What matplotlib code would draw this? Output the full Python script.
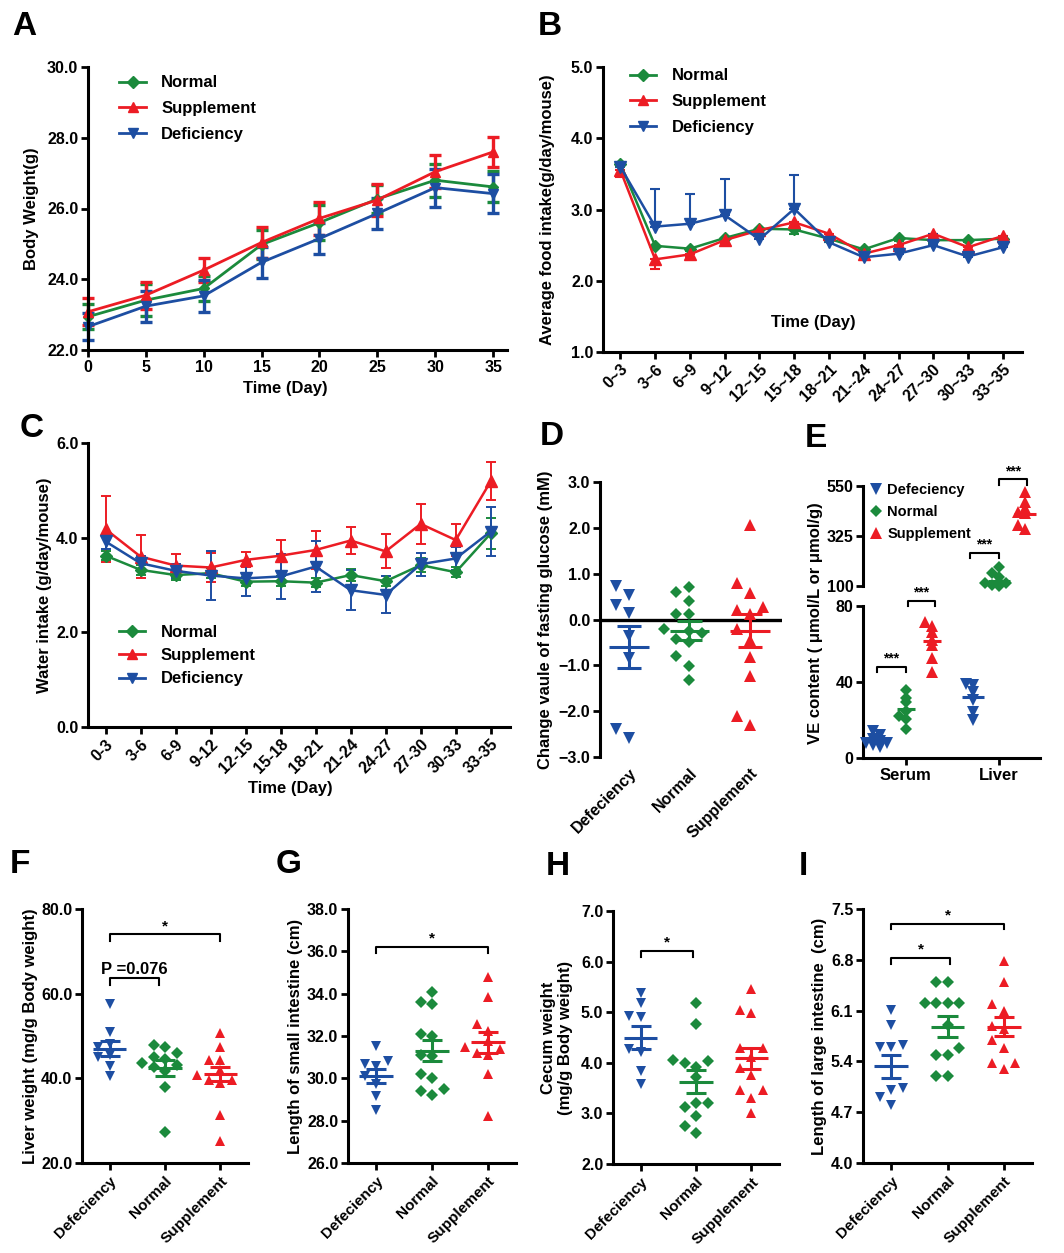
import numpy as np
import matplotlib
matplotlib.use('Agg')
import matplotlib.pyplot as plt
from matplotlib.lines import Line2D

plt.rcParams['font.family'] = ['Liberation Sans', 'DejaVu Sans']
plt.rcParams['font.weight'] = 'bold'
plt.rcParams['axes.labelweight'] = 'bold'

W, H = 1064, 1253
GREEN = '#1B8A3C'
RED = '#EC1C24'
BLUE = '#1D4EA2'
TICK_FS = 11.5
LAB_FS = 12

# ---- A: body weight
days = [0, 5, 10, 15, 20, 25, 30, 35]
bw_normal = [22.94, 23.41, 23.74, 24.98, 25.60, 26.27, 26.80, 26.61]
bw_normal_err = [0.36, 0.45, 0.35, 0.42, 0.50, 0.39, 0.47, 0.44]
bw_supp = [23.08, 23.55, 24.26, 25.04, 25.72, 26.24, 27.04, 27.60]
bw_supp_err = [0.38, 0.38, 0.33, 0.44, 0.47, 0.44, 0.47, 0.42]
bw_def = [22.66, 23.24, 23.53, 24.48, 25.15, 25.86, 26.59, 26.42]
bw_def_err = [0.38, 0.44, 0.45, 0.44, 0.44, 0.45, 0.54, 0.56]

# ---- B: food intake
food_periods = ['0~3', '3~6', '6~9', '9~12', '12~15', '15~18', '18~21',
                '21--24', '24~27', '27~30', '30~33', '33~35']
food_normal = [3.64, 2.49, 2.45, 2.60, 2.73, 2.72, 2.59, 2.44, 2.60, 2.57, 2.57, 2.59]
food_normal_err = [0.04, 0.03, 0.03, 0.03, 0.03, 0.06, 0.04, 0.03, 0.04, 0.04, 0.03, 0.03]
food_supp = [3.55, 2.30, 2.37, 2.57, 2.71, 2.82, 2.66, 2.38, 2.50, 2.66, 2.47, 2.63]
food_supp_err = [0.10, 0.14, 0.04, 0.04, 0.04, 0.05, 0.04, 0.03, 0.04, 0.04, 0.04, 0.04]
food_def = [3.60, 2.76, 2.80, 2.92, 2.58, 3.01, 2.54, 2.33, 2.38, 2.50, 2.34, 2.47]
food_def_err = [0.05, 0.53, 0.42, 0.51, 0.05, 0.48, 0.05, 0.04, 0.04, 0.16, 0.04, 0.14]

# ---- C: water intake
water_periods = ['0-3', '3-6', '6-9', '9-12', '12-15', '15-18', '18-21',
                 '21-24', '24-27', '27-30', '30-33', '33-35']
water_normal = [3.62, 3.32, 3.21, 3.25, 3.07, 3.08, 3.05, 3.21, 3.08, 3.42, 3.27, 4.09]
water_normal_err = [0.10, 0.10, 0.10, 0.10, 0.10, 0.10, 0.10, 0.12, 0.10, 0.15, 0.10, 0.32]
water_supp = [4.18, 3.60, 3.41, 3.37, 3.53, 3.62, 3.74, 3.94, 3.71, 4.29, 3.95, 5.19]
water_supp_err = [0.69, 0.46, 0.24, 0.31, 0.16, 0.33, 0.41, 0.28, 0.36, 0.43, 0.34, 0.40]
water_def = [3.92, 3.46, 3.30, 3.20, 3.14, 3.18, 3.39, 2.89, 2.79, 3.44, 3.56, 4.13]
water_def_err = [0.15, 0.15, 0.15, 0.52, 0.37, 0.48, 0.53, 0.42, 0.39, 0.24, 0.25, 0.52]

groups = ['Defeciency', 'Normal', 'Supplement']

# ---- D: fasting glucose change
gluc_def = [0.32, 0.54, 0.73, 0.14, -0.35, -0.85, -2.58, -2.38]
gluc_normal = [0.71, 0.60, 0.40, 0.13, 0.12, -0.20, -0.25, -0.30, -0.42, -0.50, -0.80, -1.02, -1.31]
gluc_supp = [2.07, 0.80, 0.58, 0.27, 0.20, 0.13, -0.21, -0.45, -0.82, -1.23, -2.11, -2.31]
gluc_mean = [-0.60, -0.24, -0.24]
gluc_sem = [0.46, 0.20, 0.37]

# ---- E: VE content
ve_sites = ['Serum', 'Liver']
ve_serum_def = [14, 12, 10, 9, 8, 8, 7, 6]
ve_serum_normal = [36, 31.8, 29.5, 25, 22, 20.7, 15.5]
ve_serum_supp = [71.4, 69.6, 66.4, 62, 59.4, 52.4, 45.3]
ve_liver_def = [38.7, 38.3, 34.8, 30.4, 24.3, 20.2]
ve_liver_normal = [187, 157, 142, 120, 112, 101, 105, 115]
ve_liver_supp = [524, 480, 452, 435, 427, 375, 357]
ve_serum_mean = [9, 25.8, 61.5]
ve_liver_mean = [32.2, 124, 424]

# ---- F-I
liver_wt = [[57.6, 51, 48, 47.5, 45.5, 45, 43, 40.5],
            [47.9, 47.5, 46, 45.1, 44.5, 43.6, 43.1, 42.6, 41.8, 37.9, 27.3],
            [50.6, 47.3, 44.3, 44.4, 42, 40.7, 39.7, 39.5, 38.8, 31.3, 25.3]]
liver_mean = [47.0, 42.4, 41.0]
liver_sem = [1.8, 1.85, 1.7]

small_int = [[31.55, 30.7, 30.8, 30.6, 30.1, 29.75, 29.15, 28.5],
             [34.1, 33.5, 33.6, 32.1, 32.0, 31.05, 31.1, 30.2, 30.0, 29.5, 29.4, 29.2],
             [34.8, 33.85, 32.55, 32.25, 31.75, 31.5, 31.4, 31.2, 31.1, 30.2, 28.2]]
small_mean = [30.1, 31.3, 31.7]
small_sem = [0.33, 0.5, 0.5]

cecum = [[5.38, 5.18, 4.92, 4.90, 4.28, 4.22, 3.84, 3.58],
         [5.18, 4.76, 4.04, 4.06, 4.00, 3.92, 3.72, 3.20, 3.13, 3.20, 2.95, 2.75, 2.62],
         [5.46, 4.99, 5.04, 4.30, 4.30, 4.11, 3.90, 3.75, 3.46, 3.46, 3.30, 3.01]]
cecum_mean = [4.50, 3.63, 4.09]
cecum_sem = [0.22, 0.23, 0.21]

large_int = [[6.11, 5.90, 5.60, 5.63, 5.60, 5.03, 5.01, 4.91, 4.80],
             [6.5, 6.5, 6.2, 6.2, 6.2, 6.2, 5.9, 5.49, 5.49, 5.58, 5.2, 5.2],
             [6.79, 6.49, 6.19, 6.09, 5.89, 5.85, 5.70, 5.58, 5.38, 5.38, 5.29]]
large_mean = [5.33, 5.88, 5.88]
large_sem = [0.16, 0.14, 0.13]

colors = [BLUE, GREEN, RED]
markers = ['v', 'D', '^']

fig = plt.figure(figsize=(W / 100, H / 100), dpi=100)


def ax_at(l, t, r, b):
    return fig.add_axes([l / W, 1 - b / H, (r - l) / W, (b - t) / H])


def style(ax):
    for s in ['top', 'right']:
        ax.spines[s].set_visible(False)
    for s in ['left', 'bottom']:
        ax.spines[s].set_linewidth(2.2)
    ax.tick_params(direction='out', length=5, width=2, labelsize=TICK_FS, pad=2)
    for lab in ax.get_xticklabels() + ax.get_yticklabels():
        lab.set_fontweight('bold')


def letter(x, y, s):
    fig.text(x / W, 1 - y / H, s, fontsize=24, fontweight='bold', va='baseline')


def swarm(vals, ppu, r, dmin=0.85):
    vals = np.asarray(vals, float)
    placed = []
    offs = np.zeros(len(vals))
    for i in np.argsort(vals):
        y = vals[i] * ppu
        for k in (0, -1, 1, -2, 2, -3, 3, -4, 4):
            if all((k * r - px) ** 2 + (y - py) ** 2 >= (dmin * r) ** 2 for px, py in placed):
                break
        placed.append((k * r, y))
        offs[i] = k * r
    return offs


def dots(ax, pos, vals, color, marker, ppu, ppc, r=11.5, ms=7.5, dmin=0.85):
    x = pos + swarm(vals, ppu, r, dmin) / ppc
    ax.plot(x, vals, ls='none', marker=marker, color=color,
            ms=ms * (0.8 if marker == 'D' else 1), mew=0, clip_on=False, zorder=3)


def mean_sem(ax, pos, m, s, color, wm=0.3, ws=0.18):
    ax.hlines(m, pos - wm, pos + wm, color=color, lw=2.2, zorder=4)
    if s is not None:
        ax.hlines([m - s, m + s], pos - ws, pos + ws, color=color, lw=2.2, zorder=4)
        ax.vlines(pos, m - s, m + s, color=color, lw=2.2, zorder=4)


def bracket(ax, x1, x2, y, leg, text, fs=11, dy=0.0):
    ax.plot([x1, x1, x2, x2], [y - leg, y, y, y - leg], color='black', lw=1.5,
            clip_on=False, zorder=5)
    ax.text((x1 + x2) / 2, y + dy, text, ha='center', va='bottom', fontsize=fs,
            fontweight='bold')


def line_legend(ax, x, y, fs=12, sp=0.5):
    hs = [Line2D([], [], color=GREEN, marker='D', ms=6, lw=2),
          Line2D([], [], color=RED, marker='^', ms=7, lw=2),
          Line2D([], [], color=BLUE, marker='v', ms=7, lw=2)]
    ax.legend(hs, ['Normal', 'Supplement', 'Deficiency'], loc='upper left',
              bbox_to_anchor=(x, y), frameon=False, handlelength=1.6,
              handletextpad=0.9, labelspacing=sp, borderpad=0, borderaxespad=0,
              prop={'weight': 'bold', 'size': fs})


# ================= A =================
ax = ax_at(88, 67, 507, 350)
for y, e, c, m, ms in [(bw_normal, bw_normal_err, GREEN, 'D', 5.5),
                       (bw_supp, bw_supp_err, RED, '^', 7),
                       (bw_def, bw_def_err, BLUE, 'v', 7)]:
    ax.errorbar(days, y, yerr=e, color=c, marker=m, ms=ms, lw=2, elinewidth=2.4,
                capsize=4.5, capthick=2.4, clip_on=False)
ax.set_xlim(0, 36.2)
ax.set_ylim(22, 30)
ax.set_xticks(days)
ax.set_yticks([22, 24, 26, 28, 30])
ax.set_yticklabels(['22.0', '24.0', '26.0', '28.0', '30.0'])
style(ax)
ax.set_xlabel('Time (Day)', fontsize=LAB_FS, fontweight='bold')
ax.xaxis.set_label_coords((285 - 88) / 419, -0.11)
ax.set_ylabel('Body Weight(g)', fontsize=LAB_FS, fontweight='bold')
ax.yaxis.set_label_coords(-0.117, 0.5)
line_legend(ax, 0.075, 0.97, sp=0.65)
letter(12, 35, 'A')

# ================= B =================
ax = ax_at(603, 67, 1022, 352)
xb = np.arange(len(food_periods))
z = np.zeros(len(xb))
ax.errorbar(xb, food_normal, yerr=[food_normal_err, z], color=GREEN, marker='D', ms=6,
            lw=1.8, elinewidth=1.5, capsize=3.8, capthick=1.5)
ax.errorbar(xb, food_supp, yerr=[food_supp_err, z], color=RED, marker='^', ms=8,
            lw=1.8, elinewidth=1.5, capsize=3.8, capthick=1.5)
ax.errorbar(xb, food_def, yerr=[z, food_def_err], color=BLUE, marker='v', ms=8,
            lw=1.8, elinewidth=1.5, capsize=3.8, capthick=1.5)
ax.set_xlim(-0.5, 11.55)
ax.set_ylim(1, 5)
ax.set_xticks(xb)
ax.set_xticklabels(food_periods, rotation=45, ha='right', rotation_mode='anchor')
ax.set_yticks([1, 2, 3, 4, 5])
ax.set_yticklabels(['1.0', '2.0', '3.0', '4.0', '5.0'])
style(ax)
ax.text((813 - 603) / 419, 1 - (322 - 67) / 285, 'Time (Day)', transform=ax.transAxes,
        ha='center', va='center', fontsize=LAB_FS, fontweight='bold')
ax.set_ylabel('Average food intake(g/day/mouse)', fontsize=LAB_FS, fontweight='bold')
ax.yaxis.set_label_coords(-0.115, 0.5)
line_legend(ax, 0.064, 0.995, sp=0.65)
letter(538, 35, 'B')

# ================= C =================
ax = ax_at(88, 443, 510, 727)
xc = np.arange(len(water_periods))
for y, e, c, m, ms in [(water_normal, water_normal_err, GREEN, 'D', 6),
                       (water_supp, water_supp_err, RED, '^', 8),
                       (water_def, water_def_err, BLUE, 'v', 8)]:
    ax.errorbar(xc, y, yerr=e, color=c, marker=m, ms=ms, lw=1.8, elinewidth=1.4,
                capsize=3.8, capthick=1.4)
ax.set_xlim(-0.5, 11.55)
ax.set_ylim(0, 6)
ax.set_xticks(xc)
ax.set_xticklabels(water_periods, rotation=45, ha='right', rotation_mode='anchor')
ax.set_yticks([0, 2, 4, 6])
ax.set_yticklabels(['0.0', '2.0', '4.0', '6.0'])
style(ax)
ax.set_xlabel('Time (Day)', fontsize=LAB_FS, fontweight='bold')
ax.xaxis.set_label_coords((290 - 88) / 422, -0.19)
ax.set_ylabel('Water intake (g/day/mouse)', fontsize=LAB_FS, fontweight='bold')
ax.yaxis.set_label_coords(-0.085, 0.5)
line_legend(ax, 0.073, 0.36, sp=0.5)
letter(20, 437, 'C')

# ================= D =================
ax = ax_at(600, 482, 782, 757)
ppu_d = 275 / 6.0
for i, vals in enumerate([gluc_def, gluc_normal, gluc_supp]):
    dots(ax, i, vals, colors[i], markers[i], ppu_d, 60.5, r=13, ms=8)
    mean_sem(ax, i, gluc_mean[i], gluc_sem[i], colors[i], wm=0.33, ws=0.2)
ax.axhline(0, color='black', lw=2.4, zorder=2)
ax.set_xlim(-0.48, 2.53)
ax.set_ylim(-3, 3)
ax.set_yticks([-3, -2, -1, 0, 1, 2, 3])
ax.set_yticklabels(['\u22123.0', '\u22122.0', '\u22121.0', '0.0', '1.0', '2.0', '3.0'])
ax.set_xticks([0, 1, 2])
ax.set_xticklabels(groups, rotation=45, ha='right', rotation_mode='anchor')
style(ax)
ax.spines['bottom'].set_visible(False)
ax.tick_params(axis='x', length=0, pad=6)
ax.set_ylabel('Change vaule of fasting glucose (mM)', fontsize=LAB_FS, fontweight='bold')
ax.yaxis.set_label_coords(-0.258, 0.5)
letter(540, 445, 'D')

# ================= E =================
axu = ax_at(863, 486, 1040, 586)
axl = ax_at(863, 606, 1040, 758)
off = [-0.28, 0.0, 0.28]
ppc_e = 93
serum = [ve_serum_def, ve_serum_normal, ve_serum_supp]
for i in range(3):
    dots(axl, off[i], serum[i], colors[i], markers[i], 152 / 80, ppc_e, r=7, ms=8, dmin=0.6)
    mean_sem(axl, off[i], ve_serum_mean[i], None, colors[i], wm=0.1)
dots(axl, 1 + off[0], ve_liver_def, BLUE, 'v', 152 / 80, ppc_e, r=7, ms=8, dmin=0.6)
mean_sem(axl, 1 + off[0], ve_liver_mean[0], None, BLUE, wm=0.12)
dots(axu, 1 + off[1], ve_liver_normal, GREEN, 'D', 100 / 450, ppc_e, r=7, ms=8, dmin=0.6)
mean_sem(axu, 1 + off[1], ve_liver_mean[1], None, GREEN, wm=0.12)
dots(axu, 1 + off[2], ve_liver_supp, RED, '^', 100 / 450, ppc_e, r=7, ms=8, dmin=0.6)
mean_sem(axu, 1 + off[2], ve_liver_mean[2], None, RED, wm=0.12)
for a in (axu, axl):
    a.set_xlim(-0.46, 1.44)
    style(a)
axu.set_ylim(100, 550)
axu.set_yticks([100, 325, 550])
axu.spines['bottom'].set_visible(False)
axu.set_xticks([])
axl.set_ylim(0, 80)
axl.set_yticks([0, 40, 80])
axl.set_xticks([0, 1])
axl.set_xticklabels(ve_sites, fontsize=LAB_FS)
for a in (axu, axl):
    for lab in a.get_yticklabels() + a.get_xticklabels():
        lab.set_fontweight('bold')
bracket(axl, -0.31, 0.0, 48, 2.7, '***', fs=10, dy=0.5)
bracket(axl, 0.02, 0.31, 82.8, 2.7, '***', fs=10, dy=0.5)
bracket(axu, 0.69, 1.0, 250, 25, '***', fs=10, dy=4)
bracket(axu, 1.0, 1.30, 580, 25, '***', fs=10, dy=4)
eh = [Line2D([], [], ls='none', marker='v', color=BLUE, ms=8, mew=0),
      Line2D([], [], ls='none', marker='D', color=GREEN, ms=6.4, mew=0),
      Line2D([], [], ls='none', marker='^', color=RED, ms=8, mew=0)]
fig.legend(eh, groups, loc='upper left', bbox_to_anchor=(870 / W, 1 - 483 / H),
           frameon=False, handlelength=0.8, handletextpad=0.4, labelspacing=0.55,
           borderpad=0, borderaxespad=0, prop={'weight': 'bold', 'size': 10.5})
fig.text(823 / W, 1 - 623 / H, 'VE content ( \u03bcmol/L or \u03bcmol/g)', rotation=90,
         ha='right', va='center', fontsize=LAB_FS, fontweight='bold')
letter(805, 447, 'E')


# ================= F-I =================
def cat_panel(box, data, means, sems, ylim, yticks, ylabels, ylabel, lab_x, lx, ly, let):
    ax = ax_at(*box)
    ppu = (box[3] - box[1]) / (ylim[1] - ylim[0])
    ppc = (box[2] - box[0]) / 3.0
    for i in range(3):
        dots(ax, i, data[i], colors[i], markers[i], ppu, ppc)
        mean_sem(ax, i, means[i], sems[i], colors[i])
    ax.set_xlim(-0.5, 2.5)
    ax.set_ylim(*ylim)
    ax.set_yticks(yticks)
    ax.set_yticklabels(ylabels)
    ax.set_xticks([0, 1, 2])
    ax.set_xticklabels(groups, rotation=45, ha='right', rotation_mode='anchor')
    style(ax)
    ax.tick_params(axis='x', pad=3, labelsize=11)
    ax.set_ylabel(ylabel, fontsize=LAB_FS, fontweight='bold', multialignment='center')
    ax.yaxis.set_label_coords(lab_x, 0.5)
    letter(lx, ly, let)
    return ax


ax = cat_panel((82, 909, 248, 1163), liver_wt, liver_mean, liver_sem, (20, 80),
               [20, 40, 60, 80], ['20.0', '40.0', '60.0', '80.0'],
               'Liver weight (mg/g Body weight)', -0.265, 10, 873, 'F')
bracket(ax, 0.0, 2.0, 74, 1.5, '*', fs=11, dy=0.3)
bracket(ax, 0.0, 0.9, 63.6, 1.6, 'P =0.076', fs=12, dy=0.3)

ax = cat_panel((348, 909, 516, 1163), small_int, small_mean, small_sem, (26, 38),
               [26, 28, 30, 32, 34, 36, 38],
               ['26.0', '28.0', '30.0', '32.0', '34.0', '36.0', '38.0'],
               'Length of small intestine (cm)', -0.268, 276, 873, 'G')
bracket(ax, 0.0, 2.0, 36.2, 0.3, '*', fs=11, dy=0.06)

ax = cat_panel((613, 911, 779, 1164), cecum, cecum_mean, cecum_sem, (2, 7),
               [2, 3, 4, 5, 6, 7], ['2.0', '3.0', '4.0', '5.0', '6.0', '7.0'],
               'Cecum weight\n(mg/g Body weight)', -0.24, 546, 875, 'H')
bracket(ax, 0.0, 0.95, 6.21, 0.11, '*', fs=11, dy=0.03)

ax = cat_panel((863, 909, 1032, 1163), large_int, large_mean, large_sem, (4, 7.5),
               [4.0, 4.7, 5.4, 6.1, 6.8, 7.5], ['4.0', '4.7', '5.4', '6.1', '6.8', '7.5'],
               'Length of large intestine  (cm)', -0.213, 799, 875, 'I')
bracket(ax, 0.0, 2.0, 7.30, 0.08, '*', fs=11, dy=0.02)
bracket(ax, 0.0, 1.05, 6.83, 0.09, '*', fs=11, dy=0.02)

fig.savefig('out.png', dpi=100)
